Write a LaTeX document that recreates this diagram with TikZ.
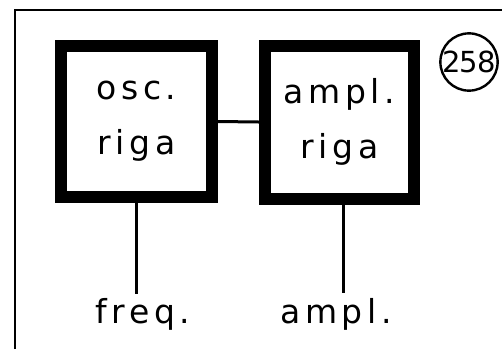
\documentclass[tikz,border=0pt]{standalone}
\usepackage{fontspec}
\newfontfamily\labelfont[LetterSpace=14]{DejaVu Sans}
\usepackage{tikz}

\begin{document}
\begin{tikzpicture}[x=1pt, y=-1pt, font=\labelfont\fontsize{33}{55}\selectfont,
	block/.style={draw, line width=12pt, minimum width=151pt, minimum height=151pt, align=center, inner sep=0pt},
	wire/.style={line width=3pt}]
	\useasboundingbox (0,0) rectangle (502,349);
	\draw[line width=2.8pt] (15,349) -- (15,10) -- (502,10);
	\node[block] (osc) at (136.5,121.5) {osc.\\riga};
	\node[block, minimum width=149pt, minimum height=153pt] (amp) at (339.5,122) {ampl.\\riga};
	\node[draw, circle, line width=2.4pt, minimum size=53pt, inner sep=0pt, font=\labelfont\fontsize{29}{30}\selectfont\addfontfeature{LetterSpace=-4}] (num) at (469,62) {258};
	\node[inner sep=2pt] (freq) at (143,314) {freq.};
	\node[inner sep=2pt] (ampl) at (336,314) {ampl.};
	\draw[wire] (osc.east) -- (amp.west);
	\draw[wire] (osc.south) -- (osc.south |- 0,294);
	\draw[wire] (amp.south -| 343,0) -- (343,293);
\end{tikzpicture}
\end{document}
